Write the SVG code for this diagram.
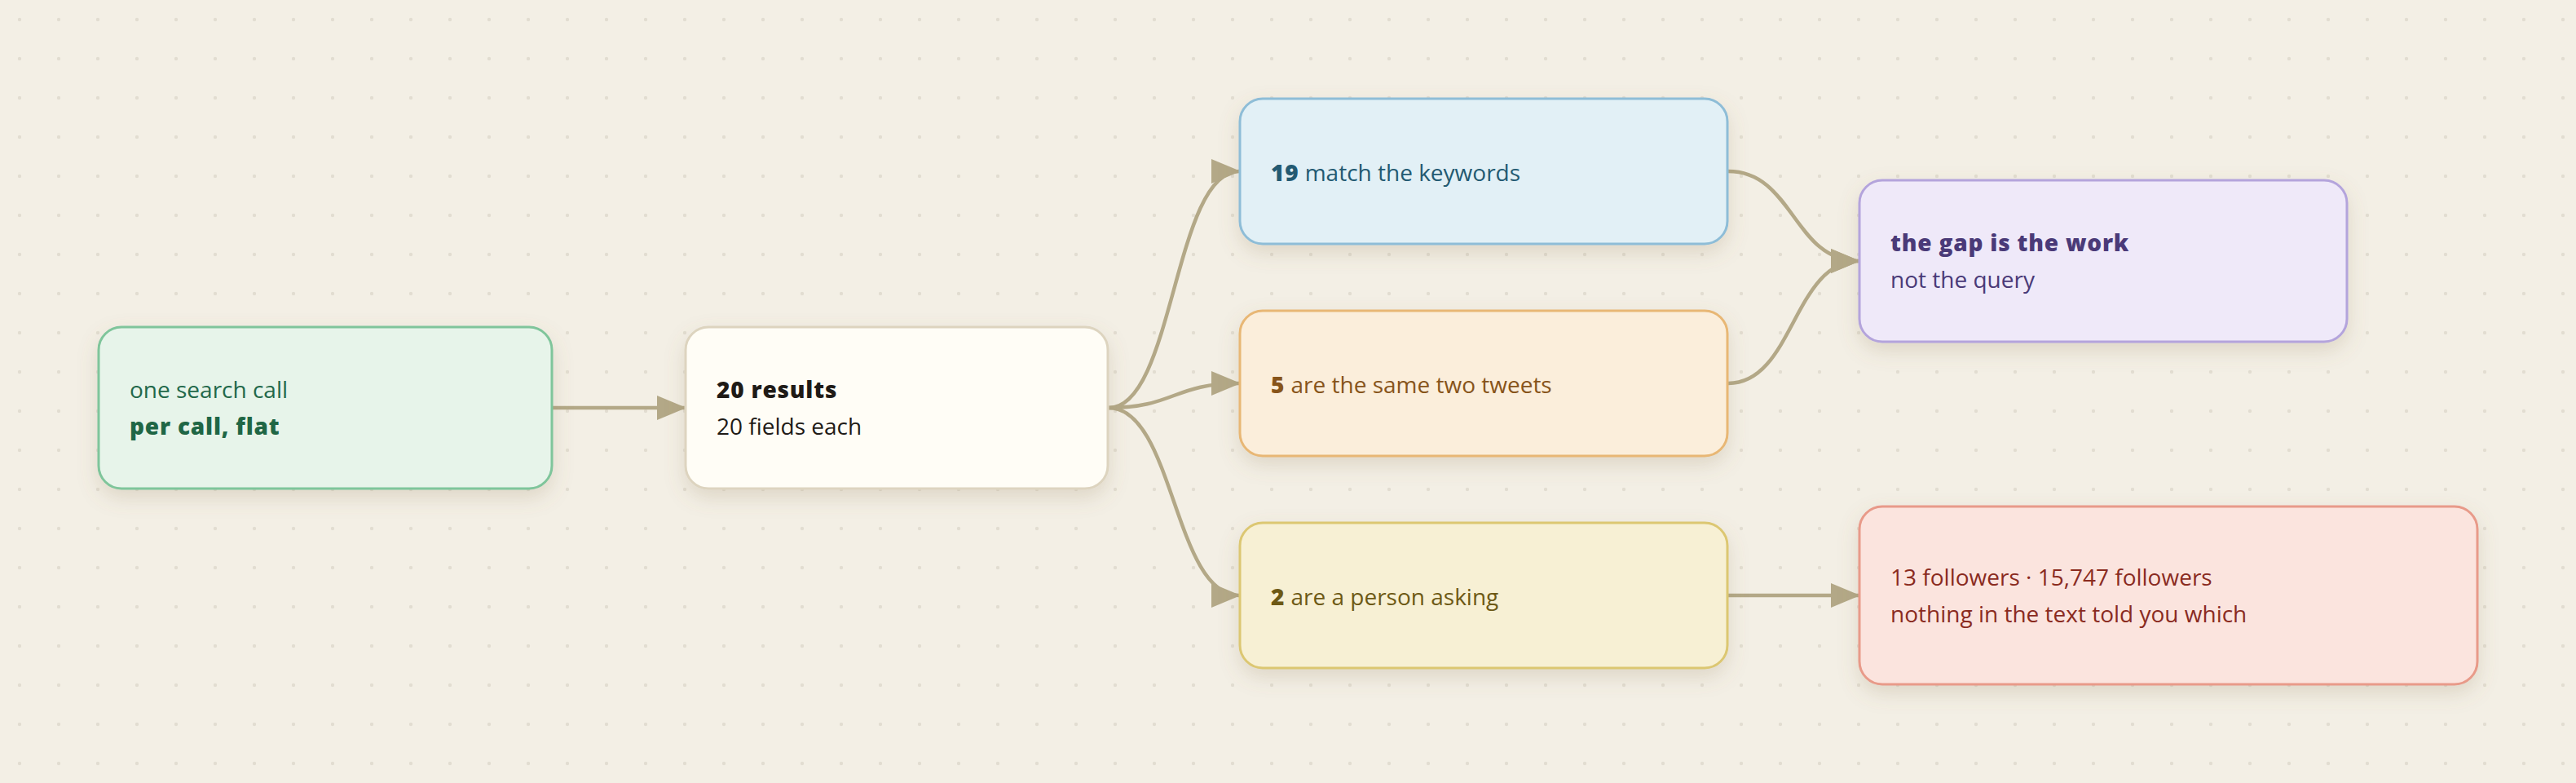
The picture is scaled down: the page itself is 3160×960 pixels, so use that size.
<svg xmlns="http://www.w3.org/2000/svg" width="3160" height="960" viewBox="0 0 3160 960">
<defs>
<pattern id="dots" width="48" height="48" patternUnits="userSpaceOnUse"><circle cx="24" cy="24" r="2.2" fill="#e2ddd1"/></pattern>
<filter id="shadow" x="-20%" y="-30%" width="140%" height="170%"><feDropShadow dx="0" dy="10" stdDeviation="12" flood-color="#8a7550" flood-opacity="0.2"/></filter>
<marker id="arrow" markerUnits="userSpaceOnUse" viewBox="0 0 36 30" markerWidth="36" markerHeight="30" refX="34" refY="15" orient="auto"><path d="M0,0 L36,15 L0,30 z" fill="#b3a887"/></marker>
</defs>
<style>
.edge{fill:none;stroke:#b3a887;stroke-width:4.5;marker-end:url(#arrow)}
.box{stroke-width:3;filter:url(#shadow)}
text{font-family:"Open Sans","Noto Sans","Liberation Sans",sans-serif;font-size:28px}
.b{font-weight:800;letter-spacing:0.8px}
</style>
<rect width="3160" height="960" fill="#f3efe5"/>
<rect width="3160" height="960" fill="url(#dots)"/>
<g id="connectors">
<path class="edge" d="M678,500 L840,500"/>
<path class="edge" d="M1360,500 C1440,500 1440,210 1520,210"/>
<path class="edge" d="M1360,500 C1440,500 1440,470 1520,470"/>
<path class="edge" d="M1360,500 C1440,500 1440,730 1520,730"/>
<path class="edge" d="M2120,210 C2200,210 2200,320 2280,320"/>
<path class="edge" d="M2120,470 C2200,470 2200,320 2280,320"/>
<path class="edge" d="M2120,730 L2280,730"/>
</g>
<g id="node-search">
<rect class="box" x="121" y="401" width="556" height="198" rx="28" fill="#e7f4ea" stroke="#7fc59b"/>
<text x="159" y="488" fill="#22684a">one search call</text>
<text x="159" y="533" fill="#1f6645" class="b">per call, flat</text>
</g>
<g id="node-results">
<rect class="box" x="841" y="401" width="518" height="198" rx="28" fill="#fffdf6" stroke="#ddd4bf"/>
<text x="879" y="488" fill="#1f1b17" class="b">20 results</text>
<text x="879" y="533" fill="#1f1b17">20 fields each</text>
</g>
<g id="node-match">
<rect class="box" x="1521" y="121" width="598" height="178" rx="28" fill="#e2f0f6" stroke="#8ebdd7"/>
<text x="1559" y="222" fill="#235a72"><tspan class="b">19</tspan> match the keywords</text>
</g>
<g id="node-same">
<rect class="box" x="1521" y="381" width="598" height="178" rx="28" fill="#fbeedb" stroke="#e8b774"/>
<text x="1559" y="482" fill="#87541a"><tspan class="b">5</tspan> are the same two tweets</text>
</g>
<g id="node-person">
<rect class="box" x="1521" y="641" width="598" height="178" rx="28" fill="#f7f0d4" stroke="#dcc772"/>
<text x="1559" y="742" fill="#6d5915"><tspan class="b">2</tspan> are a person asking</text>
</g>
<g id="node-gap">
<rect class="box" x="2281" y="221" width="598" height="198" rx="28" fill="#efe9f9" stroke="#b4a4dc"/>
<text x="2319" y="308" fill="#4a3a78" class="b">the gap is the work</text>
<text x="2319" y="353" fill="#4a3a78">not the query</text>
</g>
<g id="node-followers">
<rect class="box" x="2281" y="621" width="758" height="218" rx="28" fill="#fbe4de" stroke="#e89a89"/>
<text x="2319" y="718" fill="#8a2b1f">13 followers · 15,747 followers</text>
<text x="2319" y="763" fill="#8a2b1f">nothing in the text told you which</text>
</g>
</svg>
